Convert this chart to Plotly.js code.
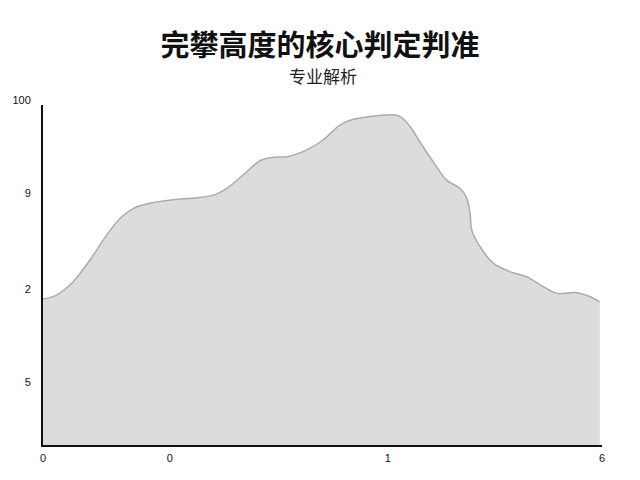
<!DOCTYPE html>
<html>
<head>
<meta charset="utf-8">
<script src="https://cdn.plot.ly/plotly-3.0.1.min.js"></script>
<style>
  html, body { margin: 0; padding: 0; background: #ffffff; }
  #chart { width: 640px; height: 480px; }
</style>
</head>
<body>
<div id="chart"></div>
<script>
// 곡선 위치 (x 0~100) 와 높이 (y 0~100), 그림에서 읽은 값
const xPos = [0, 2.4, 5.4, 8.4, 11.4, 13.8, 16.2, 19.1, 23.3, 27.5, 30.5, 32.9, 35.8, 38.8,
  41.2, 43.6, 47.2, 50.1, 53.1, 55.5, 58.5, 62.1, 63.9, 65.7, 67.4, 69.8, 72.2, 74.6,
  75.8, 76.4, 76.7, 78.2, 80.6, 83.5, 86.5, 89.5, 91.9, 95.5, 97.9, 99.6];
const heights = [42.9, 44.1, 48.0, 54.4, 61.8, 66.7, 69.6, 71.1, 72.1, 72.7, 73.5, 75.5, 79.4, 83.6,
  84.6, 84.8, 86.8, 89.7, 94.1, 95.8, 96.6, 97.1, 96.6, 93.6, 89.2, 83.3, 77.9, 75.5,
  72.6, 68.1, 63.2, 58.3, 53.4, 51.0, 49.5, 46.6, 44.6, 44.8, 43.6, 42.1];

// 축 눈금
const xTickVals = [0, 22.7, 61.7, 100];
const xTickText = ['0', '0', '1', '6'];
const yTickVals = [17.1, 44.4, 72.6, 100];
const yTickText = ['5', '2', '9', '100'];

const titleText = '完攀高度的核心判定判准';
const subtitleText = '专业解析';

const trace = {
    x: xPos,
    y: heights,
    type: 'scatter',
    mode: 'lines',
    fill: 'tozeroy',
    fillcolor: '#dcdcdc',
    line: { color: '#ababab', width: 1.5, shape: 'spline', smoothing: 0.8 },
    hoverinfo: 'skip'
};

const layout = {
    width: 640,
    height: 480,
    paper_bgcolor: '#ffffff',
    plot_bgcolor: '#ffffff',
    margin: { l: 43, r: 38, t: 105, b: 35 },
    showlegend: false,
    title: {
        text: '<b>' + titleText + '</b>',
        font: { family: 'Noto Sans CJK SC', size: 29, color: '#111111' },
        x: 0.5, xanchor: 'center',
        y: 1 - 46 / 480, yanchor: 'middle', yref: 'container'
    },
    annotations: [{
        text: subtitleText,
        xref: 'paper', yref: 'paper',
        x: 0.5, y: 1 + 30 / 340,
        xanchor: 'center', yanchor: 'middle',
        showarrow: false,
        font: { family: 'Noto Sans CJK SC', size: 17, color: '#222222' }
    }],
    xaxis: {
        range: [0, 100],
        showgrid: false, zeroline: false,
        showline: true, linecolor: '#111111', linewidth: 2,
        tickmode: 'array', tickvals: xTickVals, ticktext: xTickText,
        ticks: '', ticklabelstandoff: 2,
        tickfont: { family: 'Liberation Sans', size: 11, color: '#111111' },
        fixedrange: true
    },
    yaxis: {
        range: [0, 100],
        showgrid: false, zeroline: false,
        showline: true, linecolor: '#111111', linewidth: 2,
        tickmode: 'array', tickvals: yTickVals, ticktext: yTickText,
        ticks: '', ticklabelstandoff: 8, ticklabelshift: -5,
        tickfont: { family: 'Liberation Sans', size: 11, color: '#111111' },
        fixedrange: true
    }
};

Plotly.newPlot('chart', [trace], layout, { displayModeBar: false, staticPlot: true });
</script>
</body>
</html>
